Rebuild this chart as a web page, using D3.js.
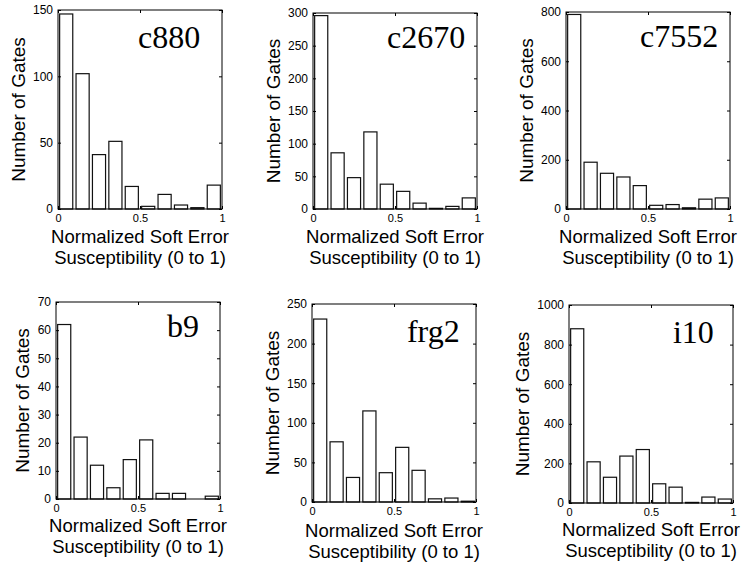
<!DOCTYPE html>
<html>
<head>
<meta charset="utf-8">
<script src="https://cdn.jsdelivr.net/npm/d3@7"></script>
<style>
  body { margin: 0; background: #fff; }
  svg { display: block; }
</style>
</head>
<body>
<div id="chart"></div>
<script>
// circuits and their soft error histograms (10 bins on 0..1)
const circuits = ['c880', 'c2670', 'c7552', 'b9', 'frg2', 'i10'];
const binCenters = [0.05, 0.15, 0.25, 0.35, 0.45, 0.55, 0.65, 0.75, 0.85, 0.95];

const c880Counts  = [147, 102, 41, 51, 17, 2, 11, 3, 1, 18];
const c2670Counts = [296, 86, 48, 118, 38, 27, 9, 1, 4, 17];
const c7552Counts = [790, 190, 145, 130, 95, 15, 18, 5, 40, 45];
const b9Counts    = [62, 22, 12, 4, 14, 21, 2, 2, 0, 1];
const frg2Counts  = [231, 76, 31, 115, 37, 69, 40, 4, 5, 1];
const i10Counts   = [880, 208, 130, 237, 270, 97, 80, 3, 30, 20];
const allCounts = [c880Counts, c2670Counts, c7552Counts, b9Counts, frg2Counts, i10Counts];

const yTicksList = [
  [0, 50, 100, 150],
  [0, 50, 100, 150, 200, 250, 300],
  [0, 200, 400, 600, 800],
  [0, 10, 20, 30, 40, 50, 60, 70],
  [0, 50, 100, 150, 200, 250],
  [0, 200, 400, 600, 800, 1000]
];
const xTicks = [0, 0.5, 1];

// layout of each subplot on the page (pixels), plus where the name goes (axes fractions)
const layout = [
  {left: 58,  top: 10,  bottom: 209, nameX: 0.488, nameY: 0.19, xlab: 34},
  {left: 313, top: 13,  bottom: 209, nameX: 0.451, nameY: 0.18, xlab: 34},
  {left: 566, top: 12,  bottom: 209, nameX: 0.451, nameY: 0.18, xlab: 34},
  {left: 56,  top: 302, bottom: 499, nameX: 0.677, nameY: 0.18, xlab: 33},
  {left: 312, top: 304, bottom: 502, nameX: 0.579, nameY: 0.19, xlab: 35},
  {left: 569, top: 305, bottom: 503, nameX: 0.634, nameY: 0.19, xlab: 33}
];
const axW = 164;
const barWidth = 0.08;

const svg = d3.select('#chart')
  .append('svg')
  .attr('width', 741)
  .attr('height', 567);

const sans = 'Liberation Sans, Arial, sans-serif';

circuits.forEach((name, i) => {
  const L = layout[i];
  const h = L.bottom - L.top;
  const counts = allCounts[i];
  const yTicks = yTicksList[i];

  const x = d3.scaleLinear().domain([0, 1]).range([0, axW]);
  const y = d3.scaleLinear().domain([0, yTicks[yTicks.length - 1]]).range([h, 0]);

  const g = svg.append('g')
    .attr('transform', 'translate(' + L.left + ',' + L.top + ')');

  // bars
  g.selectAll('rect.bar')
    .data(binCenters.map((c, k) => ({c: c, v: counts[k]})))
    .enter()
    .append('rect')
      .attr('class', 'bar')
      .attr('x', d => x(d.c - barWidth / 2))
      .attr('y', d => y(d.v))
      .attr('width', x(barWidth) - x(0))
      .attr('height', d => y(0) - y(d.v))
      .attr('fill', '#fff')
      .attr('stroke', '#111')
      .attr('stroke-width', 1.2);

  // axes with inward ticks
  const yAxis = g.append('g')
    .call(d3.axisLeft(y).tickValues(yTicks).tickFormat(d3.format('d')).tickSizeInner(-3).tickSizeOuter(0).tickPadding(5));
  const xAxis = g.append('g')
    .attr('transform', 'translate(0,' + h + ')')
    .call(d3.axisBottom(x).tickValues(xTicks).tickFormat(d3.format('')).tickSizeInner(-3).tickSizeOuter(0).tickPadding(5));
  g.append('g')
    .attr('transform', 'translate(' + axW + ',0)')
    .call(d3.axisRight(y).tickValues(yTicks).tickFormat('').tickSizeInner(-3).tickSizeOuter(0));
  g.append('g')
    .call(d3.axisTop(x).tickValues(xTicks).tickFormat('').tickSizeInner(-3).tickSizeOuter(0));

  g.selectAll('.domain').remove();
  g.selectAll('.tick line').attr('stroke', '#000');
  yAxis.selectAll('text').style('font-family', sans).style('font-size', '12px').attr('fill', '#000');
  xAxis.selectAll('text').style('font-family', sans).style('font-size', '11px').attr('fill', '#000');

  // box
  g.append('rect')
    .attr('width', axW)
    .attr('height', h)
    .attr('fill', 'none')
    .attr('stroke', '#000')
    .attr('stroke-width', 1);

  // circuit name
  g.append('text')
    .attr('x', L.nameX * axW)
    .attr('y', L.nameY * h)
    .style('font-family', 'Liberation Serif, Times New Roman, serif')
    .style('font-size', '32px')
    .text(name);

  // y label placed left of the widest tick label
  let maxW = 0;
  yAxis.selectAll('text').each(function() {
    maxW = Math.max(maxW, this.getBBox().width);
  });
  const ylabX = -5 - maxW - 8;
  g.append('text')
    .attr('transform', 'translate(' + ylabX + ',' + (h / 2) + ') rotate(-90)')
    .attr('text-anchor', 'middle')
    .style('font-family', sans)
    .style('font-size', '19px')
    .text('Number of Gates');

  // x label, two lines
  const xl = g.append('text')
    .attr('text-anchor', 'middle')
    .style('font-family', sans)
    .style('font-size', '18.5px');
  xl.append('tspan')
    .attr('x', axW / 2)
    .attr('y', h + L.xlab)
    .text('Normalized Soft Error');
  xl.append('tspan')
    .attr('x', axW / 2)
    .attr('y', h + L.xlab + 21)
    .text('Susceptibility (0 to 1)');
});
</script>
</body>
</html>
